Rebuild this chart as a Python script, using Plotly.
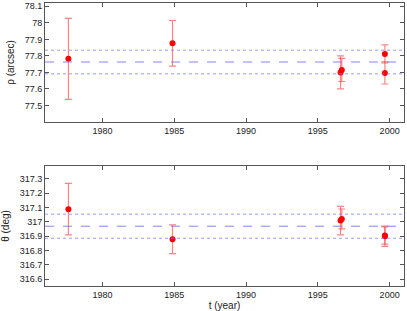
import plotly.graph_objects as go

# ---- data ----
t = [1977.63, 1984.88, 1996.58, 1996.67, 1999.67, 1999.67]
rho = [77.782, 77.876, 77.700, 77.715, 77.812, 77.697]
rho_err = [0.245, 0.138, 0.100, 0.070, 0.055, 0.067]
theta = [317.089, 316.879, 317.009, 317.021, 316.905, 316.900]
theta_err = [0.180, 0.100, 0.100, 0.069, 0.060, 0.070]

rho_mean = 77.763
rho_sd = 0.0715
theta_mean = 316.970
theta_sd = 0.084

x_ticks = [1980, 1985, 1990, 1995, 2000]
rho_ticks = [77.5, 77.6, 77.7, 77.8, 77.9, 78.0, 78.1]
rho_ticktext = ["77.5", "77.6", "77.7", "77.8", "77.9", "78", "78.1"]
theta_ticks = [316.6, 316.7, 316.8, 316.9, 317.0, 317.1, 317.2, 317.3]
theta_ticktext = ["316.6", "316.7", "316.8", "316.9", "317", "317.1", "317.2", "317.3"]

W, H = 407, 311
L, R, T, B = 45, 3, 3, 25
ph = H - T - B
top_dom = [(H - B - 122) / ph, 1.0]
bot_dom = [0.0, (H - B - 166) / ph]

err_col = "rgba(255,50,50,0.6)"
fig = go.Figure()
fig.add_trace(go.Scatter(
    x=t, y=rho, mode="markers", xaxis="x", yaxis="y",
    marker=dict(color="#ff0000", size=6),
    error_y=dict(type="data", array=rho_err, visible=True, color=err_col, thickness=1.2, width=3.5),
    showlegend=False))
fig.add_trace(go.Scatter(
    x=t, y=theta, mode="markers", xaxis="x2", yaxis="y2",
    marker=dict(color="#ff0000", size=6),
    error_y=dict(type="data", array=theta_err, visible=True, color=err_col, thickness=1.2, width=3.5),
    showlegend=False))

shapes = []
for yref, m, s in [("y", rho_mean, rho_sd), ("y2", theta_mean, theta_sd)]:
    xref = "x domain" if yref == "y" else "x2 domain"
    shapes.append(dict(type="line", xref=xref, yref=yref, x0=0, x1=1, y0=m, y1=m,
                       line=dict(color="rgba(110,110,255,0.85)", width=1, dash="dash")))
    for v in (m - s, m + s):
        shapes.append(dict(type="line", xref=xref, yref=yref, x0=0, x1=1, y0=v, y1=v,
                           line=dict(color="rgba(120,120,255,0.75)", width=1, dash="dot")))

font = dict(family="Liberation Sans, Arial, sans-serif", size=9, color="#222")
axcommon = dict(showline=True, linecolor="#555", linewidth=1, mirror="ticks",
                ticks="inside", ticklen=4, tickcolor="#555", showgrid=False,
                zeroline=False, tickfont=font, automargin=False)

fig.update_layout(
    width=W, height=H, margin=dict(l=L, r=R, t=T, b=B),
    paper_bgcolor="white", plot_bgcolor="white", font=font,
    shapes=shapes,
    xaxis=dict(domain=[0, 1], anchor="y", range=[1976, 2001], tickvals=x_ticks, **axcommon),
    yaxis=dict(domain=top_dom, anchor="x", range=[77.40, 78.12], tickvals=rho_ticks,
               ticktext=rho_ticktext, title=dict(text="ρ (arcsec)", font=dict(size=10), standoff=8), **axcommon),
    xaxis2=dict(domain=[0, 1], anchor="y2", range=[1976, 2001], tickvals=x_ticks,
                title=dict(text="t (year)", font=dict(size=10), standoff=2), **axcommon),
    yaxis2=dict(domain=bot_dom, anchor="x2", range=[316.553, 317.39], tickvals=theta_ticks,
                ticktext=theta_ticktext, title=dict(text="θ (deg)", font=dict(size=10), standoff=8), **axcommon),
)
fig.write_html("out.html", config={"displayModeBar": False},
               post_script="document.body.style.margin='0';document.body.style.overflow='hidden';")
